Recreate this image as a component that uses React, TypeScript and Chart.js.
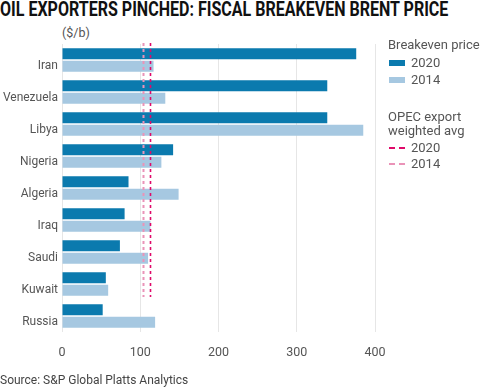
import React, { useEffect, useRef } from "react";
import { Chart, registerables } from "chart.js";

Chart.register(...registerables);

const countries = ["Iran", "Venezuela", "Libya", "Nigeria", "Algeria", "Iraq", "Saudi", "Kuwait", "Russia"];
const isOpec = [true, true, true, true, true, true, true, true, false];
const breakeven2020 = [376, 339, 339, 142, 85, 80, 74, 56, 52];
const breakeven2014 = [117, 132, 385, 127, 149, 113, 110, 59, 119];
const opecAvg2020 = 112.5;
const opecAvg2014 = 103;
const xTicks = [0, 100, 200, 300, 400];

const DARK = "#0b7aae";
const LIGHT = "#a6c8e1";
const PINK_DARK = "#df0a6a";
const PINK_LIGHT = "#ea93b8";
const FONT = "Roboto, 'DejaVu Sans', sans-serif";

const opecLines = {
  id: "opecLines",
  afterDatasetsDraw(chart: any) {
    const { ctx, chartArea, scales } = chart;
    const x = scales.x;
    const y = scales.y;
    const lastOpec = isOpec.lastIndexOf(true);
    const half = (y.getPixelForValue(1) - y.getPixelForValue(0)) / 2;
    const top = chartArea.top - 1;
    const bottom = y.getPixelForValue(lastOpec) + half - 3;
    const lines = [
      { v: opecAvg2014, c: PINK_LIGHT, w: 2 },
      { v: opecAvg2020, c: PINK_DARK, w: 1.6 },
    ];
    ctx.save();
    for (const l of lines) {
      const px = Math.round(x.getPixelForValue(l.v)) + 0.5;
      ctx.beginPath();
      ctx.setLineDash([3, 3]);
      ctx.strokeStyle = l.c;
      ctx.lineWidth = l.w;
      ctx.moveTo(px, top);
      ctx.lineTo(px, bottom);
      ctx.stroke();
    }
    ctx.restore();
  },
};

export default function App() {
  const canvasRef = useRef<HTMLCanvasElement | null>(null);
  const titleRef = useRef<HTMLDivElement | null>(null);

  useEffect(() => {
    document.body.style.margin = "0";
    if (titleRef.current) {
      const w = titleRef.current.scrollWidth;
      titleRef.current.style.transform = `scaleX(${448 / w})`;
    }
    const chart = new Chart(canvasRef.current as HTMLCanvasElement, {
      type: "bar",
      data: {
        labels: countries,
        datasets: [
          { label: "2020", data: breakeven2020, backgroundColor: DARK, categoryPercentage: 0.78, barPercentage: 0.88 },
          { label: "2014", data: breakeven2014, backgroundColor: LIGHT, categoryPercentage: 0.78, barPercentage: 0.88 },
        ],
      },
      options: {
        indexAxis: "y",
        animation: false,
        responsive: false,
        maintainAspectRatio: false,
        layout: { padding: { left: 0, right: 109, top: 44, bottom: 0 } },
        plugins: { legend: { display: false }, title: { display: false }, tooltip: { enabled: false } },
        scales: {
          x: {
            min: 0,
            max: 400,
            afterBuildTicks: (s: any) => {
              s.ticks = xTicks.map((v) => ({ value: v }));
            },
            afterFit: (s: any) => {
              s.height = 57;
            },
            grid: { color: "#e6e6e6", drawTicks: false, lineWidth: 1 },
            border: { display: false },
            ticks: { color: "#555", font: { family: FONT, size: 12.5 }, padding: 13 },
          },
          y: {
            afterFit: (s: any) => {
              s.width = 62;
            },
            grid: { display: false, drawTicks: false },
            border: { display: false },
            ticks: { color: "#555", font: { family: FONT, size: 12 }, padding: 4, labelOffset: 6 },
          },
        },
      },
      plugins: [opecLines],
    } as any);
    return () => chart.destroy();
  }, []);

  const txt: React.CSSProperties = { position: "absolute", fontFamily: FONT, fontSize: 12.5, color: "#555", whiteSpace: "nowrap", lineHeight: "16px" };
  const swatch = (top: number, color: string): React.CSSProperties => ({ position: "absolute", left: 389, top, width: 16, height: 6, background: color });
  const dash = (top: number, color: string): React.CSSProperties => ({ position: "absolute", left: 389, top, width: 16, height: 0, borderTop: `2px dashed ${color}` });

  return (
    <div style={{ position: "relative", width: 484, height: 389, background: "#fff", overflow: "hidden" }}>
      <div
        ref={titleRef}
        style={{ position: "absolute", left: 0, top: -1, fontFamily: FONT, fontWeight: 700, fontSize: 19.5, color: "#111", whiteSpace: "nowrap", transformOrigin: "0 0", lineHeight: "22px", display: "inline-block" }}
      >
        OIL EXPORTERS PINCHED: FISCAL BREAKEVEN BRENT PRICE
      </div>
      <div style={{ ...txt, left: 62, top: 25 }}>($/b)</div>
      <canvas ref={canvasRef} width={484} height={389} style={{ position: "absolute", left: 0, top: 0 }} />
      <div style={{ ...txt, left: 388, top: 37, fontSize: 13 }}>Breakeven price</div>
      <div style={swatch(60, DARK)} />
      <div style={{ ...txt, left: 411, top: 55, fontSize: 13 }}>2020</div>
      <div style={swatch(77, LIGHT)} />
      <div style={{ ...txt, left: 411, top: 72, fontSize: 13 }}>2014</div>
      <div style={{ ...txt, left: 388, top: 109, fontSize: 13 }}>OPEC export</div>
      <div style={{ ...txt, left: 388, top: 123, fontSize: 13 }}>weighted avg</div>
      <div style={dash(147, PINK_DARK)} />
      <div style={{ ...txt, left: 411, top: 140, fontSize: 13 }}>2020</div>
      <div style={dash(163, PINK_LIGHT)} />
      <div style={{ ...txt, left: 411, top: 156, fontSize: 13 }}>2014</div>
      <div style={{ ...txt, left: 0, top: 372, fontSize: 12, color: "#444" }}>Source: S&amp;P Global Platts Analytics</div>
    </div>
  );
}
